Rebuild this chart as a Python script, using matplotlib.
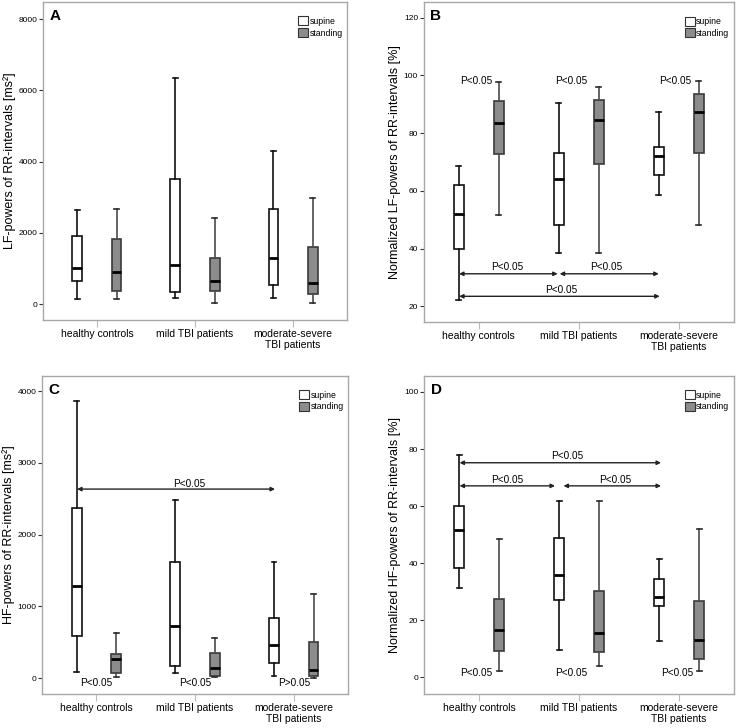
"""Box plots of LF/HF powers of RR-intervals, supine vs standing, four panels."""

import matplotlib
matplotlib.use('Agg')
import matplotlib.pyplot as plt
from matplotlib.patches import Patch

plt.rcParams['font.family'] = ['Liberation Sans', 'DejaVu Sans']

GROUPS = ['healthy controls', 'mild TBI patients', 'moderate-severe\nTBI patients']

# five-number summaries per group: lower whisker, Q1, median, Q3, upper whisker
LF_SUPINE = [[140, 645, 1020, 1900, 2650], [180, 340, 1090, 3520, 6360], [180, 530, 1290, 2680, 4300]]
LF_STANDING = [[130, 370, 900, 1830, 2680], [20, 360, 660, 1300, 2420], [20, 280, 590, 1600, 2970]]

LFN_SUPINE = [[22.3, 39.9, 52.0, 61.9, 68.6], [38.4, 48.1, 64.1, 73.0, 90.6], [58.6, 65.7, 72.0, 75.1, 87.4]]
LFN_STANDING = [[51.6, 72.8, 83.5, 91.0, 97.9], [38.5, 69.4, 84.6, 91.4, 96.0], [48.2, 73.1, 87.2, 93.6, 98.0]]

HF_SUPINE = [[84, 581, 1284, 2372, 3856], [65, 163, 726, 1623, 2474], [33, 214, 460, 833, 1614]]
HF_STANDING = [[10, 65, 265, 330, 633], [10, 33, 140, 344, 558], [0, 33, 116, 507, 1167]]

HFN_SUPINE = [[31.3, 38.2, 51.6, 60.1, 78.0], [9.5, 27.0, 35.8, 48.7, 61.8], [12.6, 25.1, 28.2, 34.4, 41.5]]
HFN_STANDING = [[2.2, 9.1, 16.6, 27.4, 48.5], [3.9, 8.7, 15.6, 30.4, 61.8], [2.2, 6.3, 13.0, 26.9, 52.0]]

SUPINE_EDGE = '#111111'
STAND_FILL = '#8c8c8c'
STAND_EDGE = '#3a3a3a'
FRAME = '#a8a8a8'


def stats(rows):
    return [dict(whislo=r[0], q1=r[1], med=r[2], q3=r[3], whishi=r[4]) for r in rows]


def draw_boxes(ax, supine, standing):
    pos = range(len(GROUPS))
    ax.bxp(stats(supine), positions=[p - 0.2 for p in pos], widths=0.1, capwidths=0.05,
           showfliers=False, patch_artist=True,
           boxprops=dict(facecolor='white', edgecolor=SUPINE_EDGE, linewidth=1.2),
           whiskerprops=dict(color=SUPINE_EDGE, linewidth=1.2),
           capprops=dict(color=SUPINE_EDGE, linewidth=1.2),
           medianprops=dict(color='black', linewidth=2))
    ax.bxp(stats(standing), positions=[p + 0.2 for p in pos], widths=0.1, capwidths=0.05,
           showfliers=False, patch_artist=True,
           boxprops=dict(facecolor=STAND_FILL, edgecolor=STAND_EDGE, linewidth=1.2),
           whiskerprops=dict(color='#4a4a4a', linewidth=1.2),
           capprops=dict(color='#2a2a2a', linewidth=1.2),
           medianprops=dict(color='black', linewidth=2))


def style_axes(ax, letter, ylabel, ylim, yticks):
    ax.set_xlim(-0.55, 2.55)
    ax.set_ylim(*ylim)
    ax.set_yticks(yticks)
    ax.set_xticks(range(len(GROUPS)))
    ax.set_xticklabels(GROUPS, fontsize=7.5, linespacing=1.15)
    ax.tick_params(axis='x', length=5, width=0.8, color='#bbbbbb', pad=1.5)
    ax.tick_params(axis='y', length=3, width=0.8, color='#333333', labelsize=6, pad=1)
    for sp in ax.spines.values():
        sp.set_color(FRAME)
        sp.set_linewidth(1.0)
    ax.set_ylabel(ylabel, fontsize=9, labelpad=2)
    ax.text(0.022, 0.978, letter, transform=ax.transAxes, ha='left', va='top',
            fontsize=11, fontweight='bold')
    handles = [Patch(facecolor='white', edgecolor='#333333', linewidth=0.8, label='supine'),
               Patch(facecolor=STAND_FILL, edgecolor='#333333', linewidth=0.8, label='standing')]
    ax.legend(handles=handles, loc='upper right', bbox_to_anchor=(0.985, 0.955), frameon=False,
              fontsize=6.3, handlelength=1.1, handleheight=1.2, handletextpad=0.15,
              labelspacing=0.25, borderaxespad=0, borderpad=0)


def arrow(ax, x1, x2, y):
    ax.annotate('', xy=(x2, y), xytext=(x1, y),
                arrowprops=dict(arrowstyle='<|-|>', color='#222222', lw=1.0,
                                mutation_scale=6, shrinkA=0, shrinkB=0))


def ptext(ax, x, y, s='P<0.05', ha='center'):
    ax.text(x, y, s, ha=ha, va='center', fontsize=7.2)


fig = plt.figure(figsize=(7.36, 7.28), dpi=100)
axA = fig.add_axes([0.0584, 0.5604, 0.4131, 0.4366])
axB = fig.add_axes([0.5755, 0.5577, 0.4215, 0.4393])
axC = fig.add_axes([0.0571, 0.0467, 0.4158, 0.4368])
axD = fig.add_axes([0.5761, 0.0467, 0.4212, 0.4368])

# A
draw_boxes(axA, LF_SUPINE, LF_STANDING)
style_axes(axA, 'A', 'LF-powers of RR-intervals [ms²]', (-450, 8480), [0, 2000, 4000, 6000, 8000])

# B
draw_boxes(axB, LFN_SUPINE, LFN_STANDING)
style_axes(axB, 'B', 'Normalized LF-powers of RR-intervals [%]', (14.6, 125.4), [20, 40, 60, 80, 100, 120])
for x in [0.14, 1.09, 2.13]:
    ptext(axB, x, 98.0, ha='right')
arrow(axB, -0.195, 0.79, 31.3)
arrow(axB, 0.81, 1.80, 31.3)
arrow(axB, -0.195, 1.81, 23.5)
ptext(axB, 0.29, 33.6)
ptext(axB, 1.28, 33.6)
ptext(axB, 0.83, 25.8)

# C
draw_boxes(axC, HF_SUPINE, HF_STANDING)
style_axes(axC, 'C', 'HF-powers of RR-intervals [ms²]', (-223, 4209), [0, 1000, 2000, 3000, 4000])
arrow(axC, -0.195, 1.81, 2633)
ptext(axC, 0.94, 2710)
ptext(axC, 0.0, -74)
ptext(axC, 1.0, -74)
ptext(axC, 2.0, -74, s='P>0.05')

# D
draw_boxes(axD, HFN_SUPINE, HFN_STANDING)
style_axes(axD, 'D', 'Normalized HF-powers of RR-intervals [%]', (-5.85, 105.6), [0, 20, 40, 60, 80, 100])
arrow(axD, -0.195, 1.82, 75.2)
ptext(axD, 0.88, 77.7)
arrow(axD, -0.195, 0.76, 67.1)
arrow(axD, 0.845, 1.82, 67.1)
ptext(axD, 0.28, 69.3)
ptext(axD, 1.36, 69.3)
for x in [0.135, 1.08, 2.14]:
    ptext(axD, x, 1.6, ha='right')

fig.savefig('out.png', dpi=100, facecolor='white')
